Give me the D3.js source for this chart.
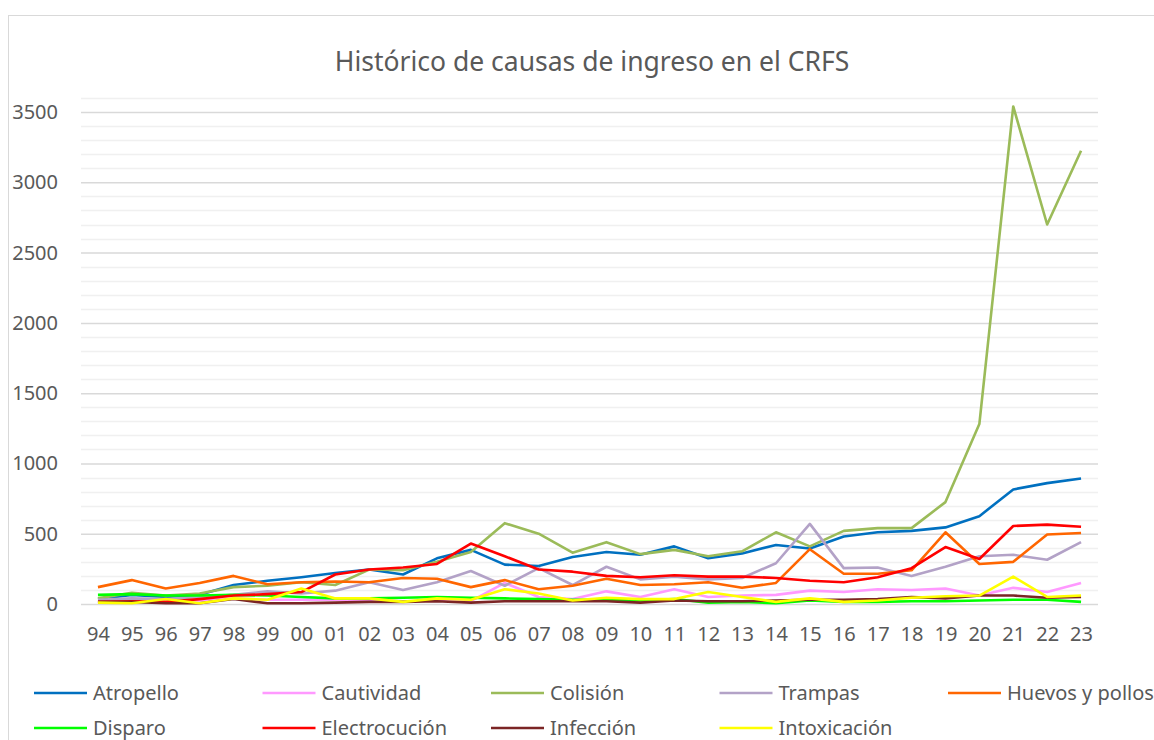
<!DOCTYPE html>
<html>
<head>
<meta charset="utf-8">
<script src="https://cdn.jsdelivr.net/npm/d3@7"></script>
<style>
  body { margin: 0; background: #fff; }
  text { font-family: "Noto Sans", "Open Sans", sans-serif; fill: #595959; }
</style>
</head>
<body>
<script>
var width = 1154,
    height = 740;

// data
var years = ["94","95","96","97","98","99","00","01","02","03","04","05","06","07","08","09","10","11","12","13","14","15","16","17","18","19","20","21","22","23"];
var seriesNames = ["Atropello","Cautividad","Colisión","Trampas","Huevos y pollos","Disparo","Electrocución","Infección","Intoxicación"];
var seriesColors = ["#0070C0","#FF99FF","#9BBB59","#B3A2C7","#FF6600","#00FF00","#FF0000","#7B2525","#FFFF00"];

var atropello    = [35,65,50,65,135,165,190,220,245,210,325,385,280,270,335,370,350,410,325,360,420,395,480,510,520,545,625,815,860,893];
var cautividad   = [20,15,20,25,40,30,30,30,30,20,25,20,150,50,35,90,50,105,50,60,65,95,85,105,100,110,60,115,85,150];
var colision     = [40,80,60,75,120,130,155,135,245,240,300,370,575,500,365,440,355,385,340,375,510,410,520,540,540,725,1280,3540,2700,3225];
var trampas      = [30,40,35,50,65,90,75,95,155,100,155,235,130,255,135,265,175,195,175,185,290,570,255,260,200,265,340,350,315,440];
var huevos       = [120,170,110,150,200,140,155,160,155,185,180,120,170,105,130,180,135,140,155,115,150,390,215,215,240,510,285,300,495,505];
var disparo      = [65,70,60,60,65,60,50,40,40,45,50,45,40,35,30,30,25,35,10,15,5,25,15,15,20,20,25,30,30,15];
var electrocucion= [15,20,15,35,60,70,85,210,245,260,285,430,340,245,230,200,190,205,195,195,185,165,155,190,255,405,320,555,565,550];
var infeccion    = [15,15,5,5,35,5,5,10,15,15,20,10,20,20,20,20,10,25,20,20,25,30,30,35,50,40,60,60,45,50];
var intoxicacion = [10,5,35,5,40,30,110,40,40,15,40,30,105,75,25,45,35,35,85,50,15,40,15,25,45,55,60,195,50,60];

var seriesValues = [atropello,cautividad,colision,trampas,huevos,disparo,electrocucion,infeccion,intoxicacion];
var yMax = 3600;

var svg = d3.select("body").append("svg").attr("width", width).attr("height", height);

// chart border
svg.append("rect").attr("x", 8.5).attr("y", 15.5).attr("width", width).attr("height", height)
  .style("fill", "white").style("stroke", "#d9d9d9").style("stroke-width", 1);

var plot = {left: 81, right: 1098, top: 98, bottom: 604};

X = d3.scalePoint().domain(years).range([plot.left, plot.right]).padding(0.5);
Y = d3.scaleLinear().domain([0, yMax]).range([plot.bottom, plot.top]);

// minor gridlines
svg.append("g").selectAll("line").data(d3.range(100, yMax + 1, 100).filter(function(d) { return d % 500 != 0; }))
  .enter().append("line")
  .attr("x1", plot.left).attr("x2", plot.right)
  .attr("y1", function(d) { return Math.round(Y(d)) + 0.5; })
  .attr("y2", function(d) { return Math.round(Y(d)) + 0.5; })
  .style("stroke", "#f0f0f0").style("stroke-width", 1.5);

// major gridlines + y labels
var yAxis = d3.axisLeft(Y).tickValues(d3.range(0, 3501, 500)).tickFormat(d3.format("d"))
  .tickSize(-(plot.right - plot.left)).tickPadding(23);
var gy = svg.append("g").attr("transform", "translate(" + plot.left + ",0)").call(yAxis);
gy.select(".domain").remove();
gy.selectAll("line").style("stroke", "#d9d9d9").style("stroke-width", 1.5);
gy.selectAll("text").style("font-size", "20px").style("fill", "#595959")
  .style("font-family", "'Noto Sans', sans-serif");

// x axis labels
var xAxis = d3.axisBottom(X).tickSize(0).tickPadding(23);
var gx = svg.append("g").attr("transform", "translate(0," + plot.bottom + ")").call(xAxis);
gx.select(".domain").remove();
gx.selectAll("text").style("font-size", "20px").style("fill", "#595959")
  .style("font-family", "'Noto Sans', sans-serif");

// lines
var line = d3.line()
  .x(function(d, i) { return X(years[i]); })
  .y(function(d) { return Y(d); });

svg.append("g").selectAll(".serie").data(seriesValues).enter().append("path").attr("class", "serie")
  .attr("d", line)
  .style("fill", "none")
  .style("stroke", function(d, i) { return seriesColors[i]; })
  .style("stroke-width", 2.6)
  .style("stroke-linejoin", "round");

// title
svg.append("text").attr("x", 592).attr("y", 71).attr("text-anchor", "middle")
  .style("font-size", "26.5px").text("Histórico de causas de ingreso en el CRFS");

// legend
var legend = svg.append("g").selectAll(".leg").data(seriesNames).enter().append("g").attr("class", "leg")
  .attr("transform", function(d, i) {
    return "translate(" + (34 + (i % 5) * 228.5) + "," + (693 + Math.floor(i / 5) * 35) + ")";
  });
legend.append("line").attr("x1", 0).attr("x2", 53)
  .style("stroke", function(d, i) { return seriesColors[i]; }).style("stroke-width", 2.6);
legend.append("text").attr("x", 59).attr("dy", "0.35em").style("font-size", "20px").text(function(d) { return d; });
</script>
</body>
</html>
